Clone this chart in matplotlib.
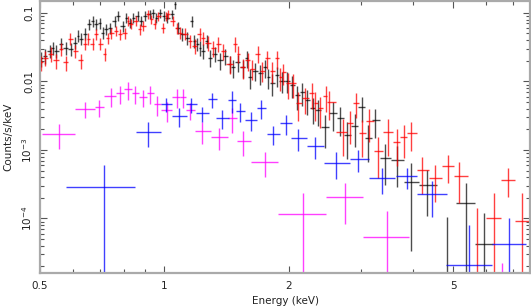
import numpy as np
import matplotlib
matplotlib.use('Agg')
import matplotlib.pyplot as plt
from matplotlib.ticker import FixedLocator, FixedFormatter, NullFormatter

# --- dense spectrum 1 (black) : energy (keV), counts/s/keV, relative error
black_e = [0.503, 0.514, 0.528, 0.537, 0.547, 0.562, 0.578, 0.594, 0.608, 0.618,
           0.628, 0.643, 0.657, 0.672, 0.683, 0.699, 0.710, 0.722, 0.739, 0.759,
           0.772, 0.794, 0.808, 0.826, 0.840, 0.863, 0.878, 0.898, 0.923, 0.939,
           0.955, 0.976, 0.998, 1.015, 1.044, 1.061, 1.079, 1.104, 1.135, 1.167,
           1.180, 1.200, 1.220, 1.240, 1.268, 1.290, 1.326, 1.364, 1.403, 1.442,
           1.466, 1.508, 1.550, 1.585, 1.612, 1.658, 1.705, 1.753, 1.783, 1.823,
           1.874, 1.927, 1.982, 2.038, 2.096, 2.155, 2.216, 2.291, 2.355, 2.449,
           2.561, 2.663, 2.769, 2.895, 3.010, 3.113, 3.237, 3.423, 3.659, 3.956,
           4.325, 4.835, 5.37, 5.94]
black_f = [0.0216, 0.0238, 0.0281, 0.0311, 0.0281, 0.0355, 0.0311, 0.0301, 0.0367, 0.0464,
           0.0420, 0.0496, 0.0693, 0.0766, 0.0693, 0.0716, 0.0513, 0.0587, 0.0606, 0.0766,
           0.0905, 0.0648, 0.0846, 0.0716, 0.0846, 0.0905, 0.0766, 0.0905, 0.0967, 0.100,
           0.0846, 0.100, 0.0905, 0.0846, 0.0967, 0.135, 0.0606, 0.0496, 0.0434, 0.0766,
           0.0393, 0.0355, 0.0311, 0.0281, 0.0393, 0.0223, 0.0255, 0.0202, 0.0238, 0.0182,
           0.0160, 0.0189, 0.0160, 0.0216, 0.0114, 0.0144, 0.0131, 0.0160, 0.0114, 0.00935,
           0.0122, 0.0103, 0.0103, 0.00875, 0.00627, 0.00693, 0.00531, 0.00406, 0.00380, 0.00215,
           0.00344, 0.00291, 0.00165, 0.00223, 0.00420, 0.00149, 0.00272, 0.00077, 0.00072, 0.00034,
           0.00031, 0.000014, 0.00017, 0.000042]
black_rel = [0.25, 0.25, 0.22, 0.22, 0.22, 0.2, 0.22, 0.22, 0.2, 0.2,
             0.2, 0.2, 0.18, 0.18, 0.18, 0.18, 0.2, 0.18, 0.18, 0.18,
             0.16, 0.18, 0.16, 0.17, 0.16, 0.16, 0.17, 0.16, 0.15, 0.15,
             0.16, 0.15, 0.16, 0.16, 0.15, 0.15, 0.2, 0.22, 0.22, 0.18,
             0.22, 0.22, 0.24, 0.25, 0.22, 0.27, 0.26, 0.27, 0.26, 0.28,
             0.3, 0.28, 0.3, 0.27, 0.33, 0.3, 0.32, 0.3, 0.33, 0.35,
             0.33, 0.34, 0.34, 0.35, 0.38, 0.37, 0.4, 0.42, 0.42, 0.5,
             0.45, 0.45, 0.55, 0.5, 0.4, 0.55, 0.45, 0.6, 0.6, 0.9,
             0.65, 6.5, 0.95, 1.9]

# --- dense spectrum 2 (red)
red_e = [0.503, 0.514, 0.531, 0.547, 0.562, 0.578, 0.591, 0.608, 0.628, 0.643,
         0.653, 0.672, 0.683, 0.699, 0.718, 0.730, 0.743, 0.764, 0.781, 0.803,
         0.817, 0.830, 0.854, 0.873, 0.888, 0.913, 0.929, 0.949, 0.965, 0.993,
         1.010, 1.021, 1.049, 1.073, 1.091, 1.122, 1.154, 1.186, 1.220, 1.240,
         1.276, 1.312, 1.349, 1.387, 1.442, 1.483, 1.508, 1.550, 1.594, 1.630,
         1.686, 1.724, 1.773, 1.823, 1.874, 1.906, 1.938, 1.993, 2.049, 2.107,
         2.191, 2.278, 2.317, 2.382, 2.463, 2.504, 2.709, 2.816, 2.911, 3.010,
         3.131, 3.291, 3.480, 3.659, 3.804, 3.956, 4.206, 4.523, 4.862, 5.17,
         5.72, 6.28, 6.80, 7.35]
red_f = [0.0189, 0.0223, 0.0255, 0.0202, 0.0301, 0.0189, 0.0420, 0.0281, 0.0202, 0.0355,
         0.0420, 0.0355, 0.0496, 0.0355, 0.0255, 0.0434, 0.0513, 0.0548, 0.0496, 0.0513,
         0.0766, 0.0693, 0.0766, 0.0587, 0.0648, 0.0967, 0.0818, 0.0693, 0.0905, 0.0606,
         0.0905, 0.0967, 0.0766, 0.0606, 0.0513, 0.0496, 0.0393, 0.0332, 0.0496, 0.0434,
         0.0367, 0.0311, 0.0355, 0.0281, 0.0182, 0.0355, 0.0255, 0.0160, 0.0202, 0.0154,
         0.0255, 0.0144, 0.0216, 0.0144, 0.0216, 0.0114, 0.0135, 0.00935, 0.00935, 0.00480,
         0.00568, 0.00670, 0.00480, 0.00406, 0.00607, 0.00497, 0.00182, 0.00246, 0.00480, 0.00176,
         0.00263, 0.00097, 0.00182, 0.00130, 0.00154, 0.00176, 0.00051, 0.00039, 0.00059, 0.00042,
         0.000013, 0.000103, 0.00037, 0.000091]
red_rel = [0.25, 0.25, 0.25, 0.25, 0.22, 0.25, 0.2, 0.22, 0.25, 0.2,
           0.2, 0.2, 0.18, 0.2, 0.22, 0.18, 0.18, 0.17, 0.18, 0.18,
           0.16, 0.16, 0.16, 0.18, 0.17, 0.15, 0.15, 0.16, 0.15, 0.17,
           0.15, 0.15, 0.16, 0.18, 0.2, 0.2, 0.22, 0.24, 0.22, 0.22,
           0.24, 0.26, 0.25, 0.27, 0.3, 0.25, 0.28, 0.32, 0.3, 0.33,
           0.28, 0.33, 0.3, 0.35, 0.3, 0.36, 0.35, 0.4, 0.38, 0.45,
           0.42, 0.4, 0.45, 0.48, 0.42, 0.45, 0.55, 0.5, 0.4, 0.55,
           0.5, 0.6, 0.55, 0.55, 0.5, 0.45, 0.55, 0.55, 0.45, 0.6,
           9.8, 1.3, 0.45, 1.6]

# --- sparse spectrum 3 (magenta): centre, bin edges, value, relative error
mag_e = [0.556, 0.643, 0.694, 0.743, 0.781, 0.817, 0.849, 0.888, 0.923, 0.960,
         1.015, 1.073, 1.110, 1.154, 1.234, 1.357, 1.459, 1.550, 1.753, 2.167,
         2.738, 3.461, 6.57]
mag_lo = [0.506, 0.608, 0.680, 0.714, 0.764, 0.799, 0.835, 0.868, 0.908, 0.944,
          0.982, 1.044, 1.091, 1.128, 1.186, 1.297, 1.426, 1.499, 1.621, 1.885,
          2.463, 3.027, 6.30]
mag_hi = [0.608, 0.680, 0.714, 0.764, 0.799, 0.835, 0.868, 0.908, 0.944, 0.982,
          1.044, 1.091, 1.128, 1.186, 1.297, 1.426, 1.499, 1.621, 1.885, 2.463,
          3.027, 3.91, 6.85]
mag_f = [0.00171, 0.00393, 0.0042, 0.00607, 0.0067, 0.00766, 0.0067, 0.00587, 0.0067, 0.00465,
         0.0038, 0.00587, 0.00587, 0.0038, 0.00188, 0.00154, 0.00291, 0.00135, 0.00067, 0.000118,
         0.000208, 0.0000531, 0.000012]
mag_rel = [0.4, 0.26, 0.27, 0.3, 0.3, 0.3, 0.3, 0.28, 0.3, 0.33,
           0.33, 0.3, 0.3, 0.28, 0.35, 0.35, 0.39, 0.39, 0.4, 1.0,
           0.6, 1.4, 0.85]

# --- sparse spectrum 4 (blue)
blue_e = [0.714, 0.913, 1.010, 1.085, 1.160, 1.234, 1.304, 1.380, 1.459, 1.525,
          1.621, 1.714, 1.833, 1.970, 2.107, 2.317, 2.604, 2.944, 3.366, 3.870,
          4.450, 5.46, 6.83]
blue_lo = [0.578, 0.854, 0.982, 1.044, 1.128, 1.193, 1.276, 1.336, 1.426, 1.490,
           1.570, 1.675, 1.770, 1.910, 2.030, 2.210, 2.430, 2.820, 3.130, 3.630,
           4.100, 4.800, 6.20]
blue_hi = [0.849, 0.982, 1.044, 1.135, 1.200, 1.283, 1.342, 1.432, 1.490, 1.570,
           1.680, 1.760, 1.910, 2.040, 2.220, 2.430, 2.820, 3.130, 3.620, 4.100,
           4.830, 6.200, 7.50]
blue_f = [0.000291, 0.00182, 0.00465, 0.00311, 0.00465, 0.00344, 0.00548, 0.00291, 0.00531, 0.00367,
          0.00272, 0.00406, 0.00171, 0.00246, 0.00149, 0.00114, 0.00065, 0.00074, 0.00039, 0.00041,
          0.00023, 0.0000208, 0.000042]
blue_rel = [1.08, 0.4, 0.23, 0.3, 0.25, 0.25, 0.25, 0.3, 0.35, 0.3,
            0.3, 0.3, 0.32, 0.32, 0.35, 0.35, 0.42, 0.35, 0.42, 0.35,
            0.55, 2.8, 1.4]

x_major = [0.5, 1, 2, 5]
x_major_labels = ['0.5', '1', '2', '5']
x_minor = [0.6, 0.7, 0.8, 0.9, 3, 4, 6, 7]
y_major = [1e-4, 1e-3, 1e-2, 1e-1]
y_major_labels = [r'10$^{-4}$', r'10$^{-3}$', '0.01', '0.1']


def half_widths(e):
    # bin half-widths from mid-points between neighbouring channels
    e = np.asarray(e)
    mids = np.sqrt(e[1:] * e[:-1])
    lo = np.concatenate([[e[0] ** 2 / mids[0]], mids])
    hi = np.concatenate([mids, [e[-1] ** 2 / mids[-1]]])
    return e - lo, hi - e


def draw(ax, e, f, rel, color, xlo=None, xhi=None, alpha=0.8):
    e = np.asarray(e)
    f = np.asarray(f)
    rel = np.asarray(rel)
    if xlo is None:
        dl, dh = half_widths(e)
    else:
        dl, dh = e - np.asarray(xlo), np.asarray(xhi) - e
    lower = np.minimum(rel, 0.999) * f
    upper = rel * f
    ax.errorbar(e, f, xerr=[dl, dh], yerr=[lower, upper], fmt='none',
                ecolor=color, elinewidth=1.0, capsize=0, alpha=alpha)


fig = plt.figure(figsize=(5.31, 3.06), dpi=100)
ax = fig.add_axes([40 / 531, 33 / 306, 490 / 531, 272 / 306])
ax.set_xscale('log')
ax.set_yscale('log')

draw(ax, black_e, black_f, black_rel, '#000000', alpha=0.7)
draw(ax, red_e, red_f, red_rel, '#ff0000', alpha=0.75)
draw(ax, mag_e, mag_f, mag_rel, '#ff00ff', mag_lo, mag_hi, alpha=0.75)
draw(ax, blue_e, blue_f, blue_rel, '#0000ff', blue_lo, blue_hi, alpha=0.75)

ax.set_xlim(0.5, 7.68)
ax.set_ylim(1.6e-5, 0.149)

ax.xaxis.set_major_locator(FixedLocator(x_major))
ax.xaxis.set_major_formatter(FixedFormatter(x_major_labels))
ax.xaxis.set_minor_locator(FixedLocator(x_minor))
ax.xaxis.set_minor_formatter(NullFormatter())
ax.yaxis.set_major_locator(FixedLocator(y_major))
ax.yaxis.set_major_formatter(FixedFormatter(y_major_labels))

for s in ax.spines.values():
    s.set_color('#aaaaaa')
    s.set_linewidth(1.6)

ax.tick_params(which='both', direction='in', top=True, right=True,
               color='#555555', width=0.8, labelsize=7.5, labelcolor='#222222')
ax.tick_params(which='major', length=5)
ax.tick_params(which='minor', length=3)
ax.tick_params(axis='x', pad=6)
ax.tick_params(axis='y', pad=4)
for lbl in ax.get_yticklabels():
    lbl.set_rotation(90)
    lbl.set_va('center')

ax.set_xlabel('Energy (keV)', fontsize=7.5, color='#222222', labelpad=3)
ax.set_ylabel('Counts/s/keV', fontsize=7.5, color='#222222', labelpad=5)

fig.savefig('out.png', dpi=100)
